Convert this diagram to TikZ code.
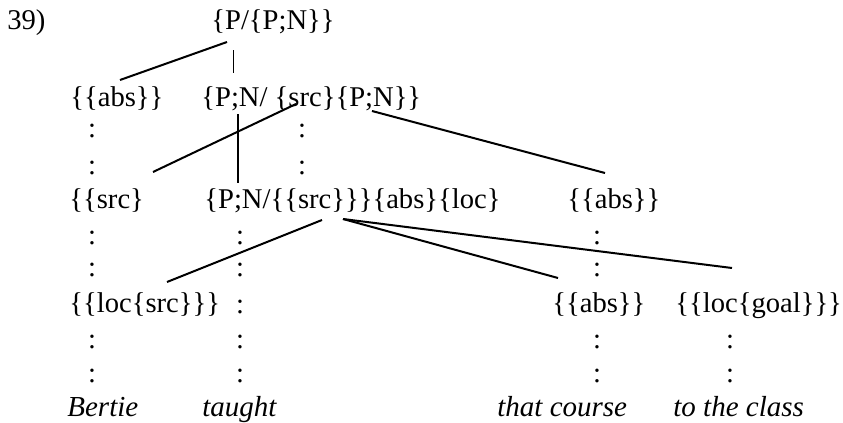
\documentclass[tikz,border=0pt]{standalone}
\usepackage{fontspec}
\setmainfont{Liberation Serif}
\usepackage{tikz}

\tikzset{
  lab/.style={anchor=base west,inner sep=0pt},
  word/.style={lab,font=\fontsize{14.5}{17}\selectfont\itshape},
  dotcol/.style={anchor=base,inner sep=0pt},
  link/.style={line width=1pt},
}

\begin{document}
\begin{tikzpicture}[x=0.5pt,y=-0.5pt,font=\fontsize{14.3}{17}\selectfont]
\useasboundingbox (0,0) rectangle (843,423);

\node[lab] (num) at (7,30) {39)};
\node[lab] (top) at (211,30) {\{P/\{P;N\}\}};

\node[lab] (absA) at (70,106) {\{\{abs\}\}};
\node[lab] (pnA) at (201,106) {\{P;N/ \{src\}\{P;N\}\}};

\node[lab] (srcB) at (69,208) {\{\{src\}};
\node[lab] (pnB) at (204,208) {\{P;N/\{\{src\}\}\}\{abs\}\{loc\}};
\node[lab] (absB) at (567,208) {\{\{abs\}\}};

\node[lab] (locC) at (69,312) {\{\{loc\{src\}\}\}};
\node[lab] (absC) at (552,312) {\{\{abs\}\}};
\node[lab] (goalC) at (675,312) {\{\{loc\{goal\}\}\}};

\node[word] (wBertie) at (67,416) {Bertie};
\node[word] (wTaught) at (202,416) {taught};
\node[word] (wCourse) at (497,416) {that course};
\node[word] (wClass) at (673,416) {to the class};

% dotted columns
\foreach \x/\y [count=\i] in {92/137,92/174,92/244,92/277,92/348,92/382,
    240/244,240/277,240/314,240/348,240/382,
    302/137,302/174,
    597/244,597/277,597/348,597/382,
    730/348,730/382}
  \node[dotcol] (col\i) at (\x,\y) {:};

% end points of the branches
\coordinate (topL) at (227,42);
\coordinate (absAt) at (120,80);
\coordinate (topV) at (233,50);
\coordinate (pnAt) at (233,73);
\coordinate (srcAb) at (296,104);
\coordinate (srcBt) at (153,172);
\coordinate (pnAb) at (238,114);
\coordinate (pnBt) at (238,183);
\coordinate (pnAr) at (372,111);
\coordinate (absBt) at (605,173);
\coordinate (pnBl) at (322,220);
\coordinate (locCt) at (167,282);
\coordinate (pnBr) at (343,219);
\coordinate (absCt) at (558,278);
\coordinate (goalCt) at (732,268);

\draw[link] (topL) -- (absAt);
\draw[line width=0.5pt] (topV) -- (pnAt);
\draw[link] (srcAb) -- (srcBt);
\draw[link] (pnAb) -- (pnBt);
\draw[link] (pnAr) -- (absBt);
\draw[link] (pnBl) -- (locCt);
\draw[link] (pnBr) -- (absCt);
\draw[link] (pnBr) -- (goalCt);
\end{tikzpicture}
\end{document}
